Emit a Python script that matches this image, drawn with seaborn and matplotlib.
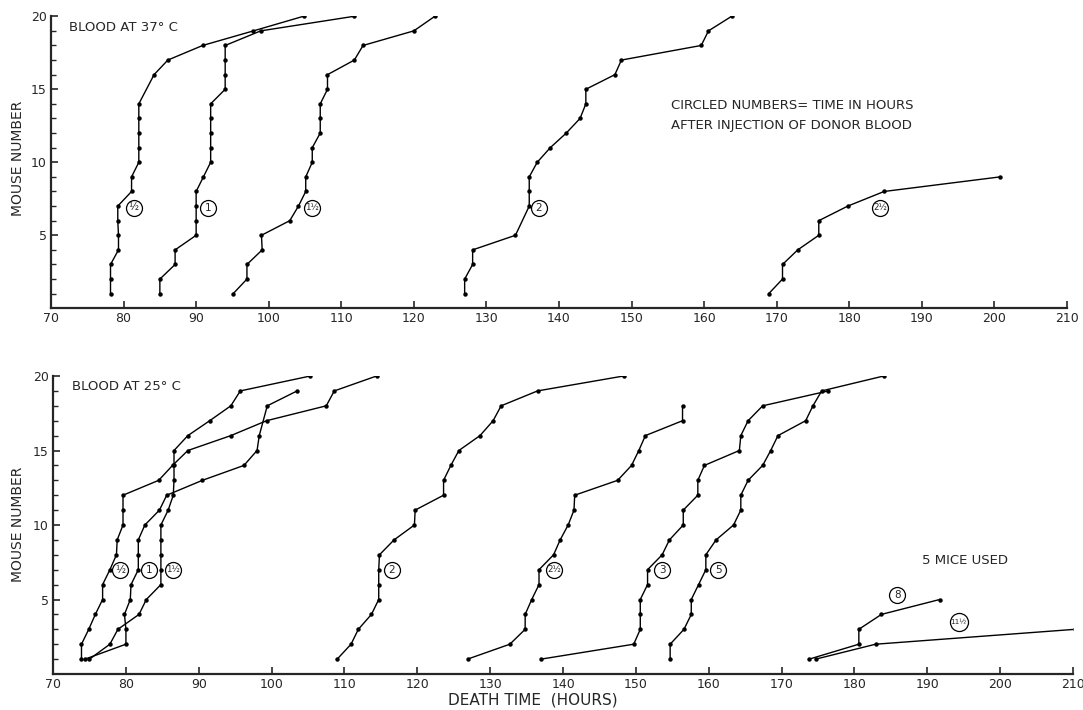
import matplotlib
matplotlib.use("Agg")
import matplotlib.pyplot as plt
import pandas as pd
import seaborn as sns

# ---- Blood at 37 C : death time (hours) of each mouse, per circled group
top_labels = ["½", "1", "1½", "2", "2½"]

top_half_mouse = [1, 2, 3, 4, 5, 6, 7, 8, 9, 10, 11, 12, 13, 14, 16, 17, 18, 19, 20]
top_half_hours = [78.2, 78.2, 78.2, 79.3, 79.3, 79.2, 79.2, 81.1, 81.1, 82.1, 82.1, 82.1,
                  82.1, 82.1, 84.2, 86.1, 90.9, 97.9, 104.8]

top_1_mouse = list(range(1, 21))
top_1_hours = [85.0, 85.0, 87.1, 87.1, 90.0, 90.0, 90.0, 90.0, 91.0, 92.0, 92.0, 92.0,
               92.0, 92.0, 94.0, 94.0, 94.0, 94.0, 98.9, 111.8]

top_1h_mouse = list(range(1, 21))
top_1h_hours = [95.1, 97.0, 97.0, 99.1, 99.0, 102.9, 104.1, 105.1, 105.1, 106.0, 106.0,
                107.1, 107.1, 107.1, 108.1, 108.1, 111.8, 113.0, 120.0, 122.9]

top_2_mouse = [1, 2, 3, 4, 5, 7, 8, 9, 10, 11, 12, 13, 14, 15, 16, 17, 18, 19, 20]
top_2_hours = [127.0, 127.0, 128.1, 128.1, 134.0, 135.9, 135.9, 135.9, 137.0, 138.8,
               141.0, 142.9, 143.7, 143.7, 147.7, 148.6, 159.6, 160.6, 163.8]

top_2h_mouse = [1, 2, 3, 4, 5, 6, 7, 8, 9]
top_2h_hours = [168.9, 170.8, 170.8, 172.9, 175.8, 175.8, 179.8, 184.8, 200.8]

# ---- Blood at 25 C
bot_labels = ["½", "1", "1½", "2", "2½", "3", "5", "8", "11½"]

bot_half_mouse = list(range(1, 21))
bot_half_hours = [73.9, 73.9, 74.9, 75.8, 76.8, 76.8, 77.8, 78.7, 78.8, 79.6, 79.6, 79.6,
                  84.5, 86.4, 88.5, 94.4, 99.3, 107.5, 108.6, 114.4]

bot_1_mouse = [1, 2, 3, 4, 5, 6, 7, 8, 9, 10, 11, 12, 13, 14, 15, 16, 18, 19]
bot_1_hours = [74.4, 80.0, 80.0, 79.8, 80.6, 80.7, 81.7, 81.7, 81.7, 82.6, 84.6, 85.6,
               90.5, 96.2, 98.0, 98.3, 99.4, 103.5]

bot_1h_mouse = list(range(1, 21))
bot_1h_hours = [75.0, 77.8, 78.9, 81.8, 82.8, 84.8, 84.8, 84.8, 84.8, 84.8, 85.8, 86.5,
                86.6, 86.6, 86.6, 88.5, 91.5, 94.4, 95.7, 105.3]

bot_2_mouse = list(range(1, 21))
bot_2_hours = [109.0, 110.9, 111.9, 113.7, 114.7, 114.7, 114.7, 114.8, 116.8, 119.6,
               119.7, 123.6, 123.6, 124.6, 125.7, 128.6, 130.4, 131.5, 136.5, 148.3]

bot_2h_mouse = list(range(1, 19))
bot_2h_hours = [126.9, 132.7, 134.8, 134.8, 135.7, 136.7, 136.7, 138.7, 139.6, 140.7,
                141.5, 141.6, 147.5, 149.4, 150.4, 151.3, 156.4, 156.4]

bot_3_mouse = list(range(1, 20))
bot_3_hours = [137.0, 149.7, 150.6, 150.6, 150.6, 151.6, 151.6, 153.6, 154.6, 156.5,
               156.5, 158.5, 158.5, 159.4, 164.2, 164.4, 165.4, 167.4, 176.4]

bot_5_mouse = list(range(1, 21))
bot_5_hours = [154.7, 154.7, 156.6, 157.6, 157.6, 158.6, 159.6, 159.6, 161.0, 163.4,
               164.4, 164.4, 165.4, 167.4, 168.5, 169.5, 173.3, 174.3, 175.5, 184.0]

bot_8_mouse = [1, 2, 3, 4, 5]
bot_8_hours = [173.8, 180.6, 180.6, 183.7, 191.7]

bot_11h_mouse = [1, 2, 3]
bot_11h_hours = [174.7, 182.9, 210.3]


def long_table(labels, mice, hours):
    parts = []
    for lab, m, h in zip(labels, mice, hours):
        parts.append(pd.DataFrame({"group": lab, "mouse": m, "hours": h}))
    return pd.concat(parts, ignore_index=True)


df_top = long_table(top_labels,
                    [top_half_mouse, top_1_mouse, top_1h_mouse, top_2_mouse, top_2h_mouse],
                    [top_half_hours, top_1_hours, top_1h_hours, top_2_hours, top_2h_hours])
df_bot = long_table(bot_labels,
                    [bot_half_mouse, bot_1_mouse, bot_1h_mouse, bot_2_mouse, bot_2h_mouse,
                     bot_3_mouse, bot_5_mouse, bot_8_mouse, bot_11h_mouse],
                    [bot_half_hours, bot_1_hours, bot_1h_hours, bot_2_hours, bot_2h_hours,
                     bot_3_hours, bot_5_hours, bot_8_hours, bot_11h_hours])

# where the circled numbers sit (hours, mouse)
top_tags = {"½": (81.4, 6.9), "1": (91.6, 6.9), "1½": (106.0, 6.9),
            "2": (137.2, 6.9), "2½": (184.3, 6.9)}
bot_tags = {"½": (79.2, 7.0), "1": (83.2, 7.0), "1½": (86.4, 7.0), "2": (116.5, 7.0),
            "2½": (138.8, 7.0), "3": (153.6, 7.0), "5": (161.3, 7.0),
            "8": (185.9, 5.3), "11½": (194.3, 3.5)}

sns.set_style("ticks")
plt.rcParams["font.family"] = ["DejaVu Sans"]
plt.rcParams["axes.linewidth"] = 1.6

fig = plt.figure(figsize=(10.83, 7.10), dpi=100)
ax_top = fig.add_axes([0.0471, 0.5658, 0.9381, 0.4113])
ax_bot = fig.add_axes([0.0490, 0.0507, 0.9418, 0.4197])

for ax, df, tags in [(ax_top, df_top, top_tags), (ax_bot, df_bot, bot_tags)]:
    sns.lineplot(data=df, x="hours", y="mouse", units="group", estimator=None, sort=False,
                 color="black", linewidth=1.0, marker="o", markersize=3.2,
                 markeredgewidth=0, ax=ax, legend=False)
    for lab, (hx, my) in tags.items():
        ring = 13 if lab == "11½" else 11.5
        fs = {1: 7.5, 2: 6.2, 3: 5.2}[len(lab)]
        ax.plot([hx], [my], marker="o", ms=ring, mfc="white", mec="black", mew=0.9,
                linestyle="none", zorder=3)
        ax.text(hx, my, lab, ha="center", va="center", fontsize=fs, zorder=4)
    ax.set_xlim(70, 210)
    ax.set_ylim(0, 20)
    ax.set_xticks(range(70, 211, 10))
    ax.set_yticks([5, 10, 15, 20])
    ax.set_yticks(range(1, 21), minor=True)
    ax.tick_params(axis="both", which="major", direction="in", length=5, width=1.2,
                   labelsize=9, pad=3)
    ax.tick_params(axis="y", which="minor", direction="in", length=3.5, width=1.0)
    ax.set_xlabel("")
    ax.set_ylabel("")
    sns.despine(ax=ax)

ax_top.text(0.018, 0.985, "BLOOD AT 37° C", transform=ax_top.transAxes,
            fontsize=9.5, va="top", ha="left")
ax_bot.text(0.019, 0.985, "BLOOD AT 25° C", transform=ax_bot.transAxes,
            fontsize=9.5, va="top", ha="left")
ax_top.text(155.5, 13.9, "CIRCLED NUMBERS= TIME IN HOURS", fontsize=9.5, ha="left", va="center")
ax_top.text(155.5, 12.5, "AFTER INJECTION OF DONOR BLOOD", fontsize=9.5, ha="left", va="center")
ax_bot.text(195.2, 7.6, "5 MICE USED", fontsize=9.5, ha="center", va="center")

fig.text(0.0166, 0.777, "MOUSE NUMBER", rotation=90, ha="center", va="center", fontsize=10)
fig.text(0.0166, 0.262, "MOUSE NUMBER", rotation=90, ha="center", va="center", fontsize=10)
fig.text(0.492, 0.004, "DEATH TIME  (HOURS)", ha="center", va="bottom", fontsize=11)

fig.savefig("out.png", dpi=100)
